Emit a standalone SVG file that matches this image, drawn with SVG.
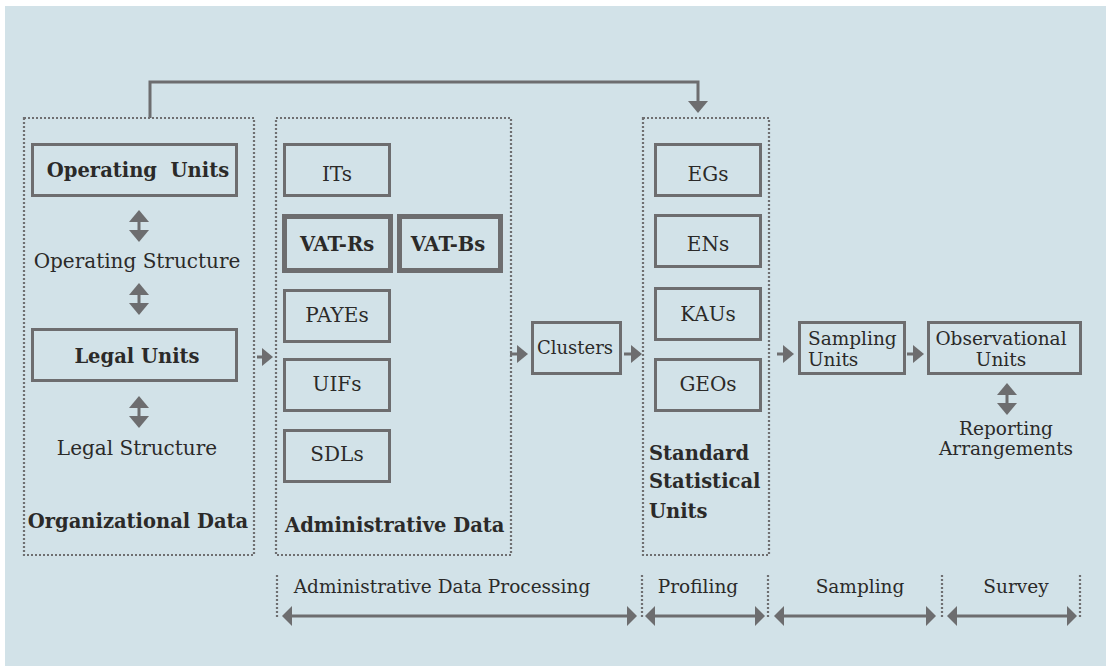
<svg xmlns="http://www.w3.org/2000/svg" width="1106" height="666" viewBox="0 0 1106 666">
  <defs>
    <style>
      .bg { fill: #d2e2e8; }
      .zone { fill: none; stroke: #6f6f71; stroke-width: 2.2; stroke-dasharray: 2 2; }
      .box { fill: none; stroke: #6d6d6f; stroke-width: 3; }
      .heavy { stroke-width: 5; }
      .wire { fill: none; stroke: #6d6d6f; stroke-width: 3; }
      .t { font-family: "DejaVu Serif", "Liberation Serif", serif; font-size: 20px; fill: #2b2a29; text-anchor: middle; }
      .b { font-weight: bold; font-size: 19.5px; }
      .l { text-anchor: start; }
      .s { font-size: 18.5px; }
    </style>
    <marker id="head" markerUnits="userSpaceOnUse" markerWidth="12" markerHeight="20" refX="0" refY="10" orient="auto-start-reverse" viewBox="0 0 12 20">
      <path d="M0,0 L12,10 L0,20 z" fill="#6d6d6f"/>
    </marker>
    <marker id="tip" markerUnits="userSpaceOnUse" markerWidth="11" markerHeight="18" refX="0" refY="9" orient="auto-start-reverse" viewBox="0 0 11 18">
      <path d="M0,0 L11,9 L0,18 z" fill="#6d6d6f"/>
    </marker>
    <marker id="span" markerUnits="userSpaceOnUse" markerWidth="10" markerHeight="20" refX="0" refY="10" orient="auto-start-reverse" viewBox="0 0 10 20">
      <path d="M0,0 L10,10 L0,20 z" fill="#6d6d6f"/>
    </marker>
  </defs>

  <rect class="bg" x="5" y="6" width="1101" height="660"/>

  <!-- dotted zones -->
  <g id="zone-organizational">
    <rect class="zone" x="24" y="118" width="230" height="437"/>
    <text class="t b" x="138" y="528">Organizational Data</text>
  </g>
  <g id="zone-administrative">
    <rect class="zone" x="276" y="118" width="235" height="437"/>
    <text class="t b l" x="285" y="532">Administrative Data</text>
  </g>
  <g id="zone-standard">
    <rect class="zone" x="643" y="118" width="126" height="437"/>
    <text class="t b l" x="649" y="460">Standard</text>
    <text class="t b l" x="649" y="488">Statistical</text>
    <text class="t b l" x="649" y="518">Units</text>
  </g>

  <!-- organizational data -->
  <g id="operating-units">
    <rect class="box" x="32.5" y="144.5" width="204" height="51"/>
    <text class="t b" x="138" y="177" xml:space="preserve">Operating  Units</text>
  </g>
  <g id="operating-structure">
    <text class="t" x="137" y="268">Operating Structure</text>
  </g>
  <g id="legal-units">
    <rect class="box" x="32.5" y="329.5" width="204" height="51"/>
    <text class="t b" x="137" y="363">Legal Units</text>
  </g>
  <g id="legal-structure">
    <text class="t" x="137" y="455">Legal Structure</text>
  </g>

  <!-- administrative data -->
  <g id="its">
    <rect class="box" x="284.5" y="144.5" width="105" height="51"/>
    <text class="t" x="337" y="181">ITs</text>
  </g>
  <g id="vat-rs">
    <rect class="box heavy" x="284.5" y="216.5" width="106" height="54"/>
    <text class="t b" x="337" y="251">VAT-Rs</text>
  </g>
  <g id="vat-bs">
    <rect class="box heavy" x="399.5" y="216.5" width="101" height="54"/>
    <text class="t b" x="448" y="251">VAT-Bs</text>
  </g>
  <g id="payes">
    <rect class="box" x="284.5" y="290.5" width="105" height="51"/>
    <text class="t" x="337" y="322">PAYEs</text>
  </g>
  <g id="uifs">
    <rect class="box" x="284.5" y="359.5" width="105" height="51"/>
    <text class="t" x="337" y="391">UIFs</text>
  </g>
  <g id="sdls">
    <rect class="box" x="284.5" y="430.5" width="105" height="51"/>
    <text class="t" x="337" y="461">SDLs</text>
  </g>

  <g id="clusters">
    <rect class="box" x="532.5" y="322.5" width="88" height="51"/>
    <text class="t" x="575" y="354" style="font-size:18px">Clusters</text>
  </g>

  <!-- standard statistical units -->
  <g id="egs">
    <rect class="box" x="655.5" y="144.5" width="105" height="51"/>
    <text class="t" x="708" y="181">EGs</text>
  </g>
  <g id="ens">
    <rect class="box" x="655.5" y="215.5" width="105" height="51"/>
    <text class="t" x="708" y="251">ENs</text>
  </g>
  <g id="kaus">
    <rect class="box" x="655.5" y="288.5" width="105" height="51"/>
    <text class="t" x="708" y="321">KAUs</text>
  </g>
  <g id="geos">
    <rect class="box" x="655.5" y="359.5" width="105" height="51"/>
    <text class="t" x="708" y="391">GEOs</text>
  </g>

  <g id="sampling-units">
    <rect class="box" x="799.5" y="322.5" width="105" height="51"/>
    <text class="t s l" x="808" y="345">Sampling</text>
    <text class="t s l" x="808" y="366">Units</text>
  </g>
  <g id="observational-units">
    <rect class="box" x="928.5" y="322.5" width="152" height="51"/>
    <text class="t s" x="1001" y="345">Observational</text>
    <text class="t s" x="1001" y="366">Units</text>
  </g>
  <g id="reporting-arrangements">
    <text class="t s" x="1006" y="435">Reporting</text>
    <text class="t s" x="1006" y="455">Arrangements</text>
  </g>

  <!-- phase scale -->
  <g id="phases">
    <line class="zone" x1="277" y1="575" x2="277" y2="618"/>
    <line class="zone" x1="642" y1="575" x2="642" y2="618"/>
    <line class="zone" x1="768" y1="575" x2="768" y2="618"/>
    <line class="zone" x1="942" y1="575" x2="942" y2="618"/>
    <line class="zone" x1="1080" y1="575" x2="1080" y2="618"/>
    <text class="t s" x="442" y="593">Administrative Data Processing</text>
    <text class="t s" x="698" y="593">Profiling</text>
    <text class="t s" x="860" y="593">Sampling</text>
    <text class="t s" x="1016" y="593">Survey</text>
  </g>

  <!-- connectors -->
  <g id="connectors">
    <path class="wire" d="M150,118 V82 H698 V101" marker-end="url(#head)"/>
    <line class="wire" x1="139" y1="222" x2="139" y2="230" marker-start="url(#head)" marker-end="url(#head)"/>
    <line class="wire" x1="139" y1="295" x2="139" y2="303" marker-start="url(#head)" marker-end="url(#head)"/>
    <line class="wire" x1="139" y1="408" x2="139" y2="416" marker-start="url(#head)" marker-end="url(#head)"/>
    <line class="wire" x1="1007" y1="395" x2="1007" y2="403" marker-start="url(#head)" marker-end="url(#head)"/>
    <line class="wire" x1="257" y1="357" x2="262" y2="357" marker-end="url(#tip)"/>
    <line class="wire" x1="510" y1="354" x2="517" y2="354" marker-end="url(#tip)"/>
    <line class="wire" x1="624" y1="354" x2="631" y2="354" marker-end="url(#tip)"/>
    <line class="wire" x1="777" y1="354" x2="783" y2="354" marker-end="url(#tip)"/>
    <line class="wire" x1="907" y1="354" x2="913" y2="354" marker-end="url(#tip)"/>
    <line class="wire" x1="292" y1="616" x2="627" y2="616" marker-start="url(#span)" marker-end="url(#span)"/>
    <line class="wire" x1="655" y1="616" x2="755" y2="616" marker-start="url(#span)" marker-end="url(#span)"/>
    <line class="wire" x1="784" y1="616" x2="926" y2="616" marker-start="url(#span)" marker-end="url(#span)"/>
    <line class="wire" x1="957" y1="616" x2="1067" y2="616" marker-start="url(#span)" marker-end="url(#span)"/>
  </g>
</svg>
